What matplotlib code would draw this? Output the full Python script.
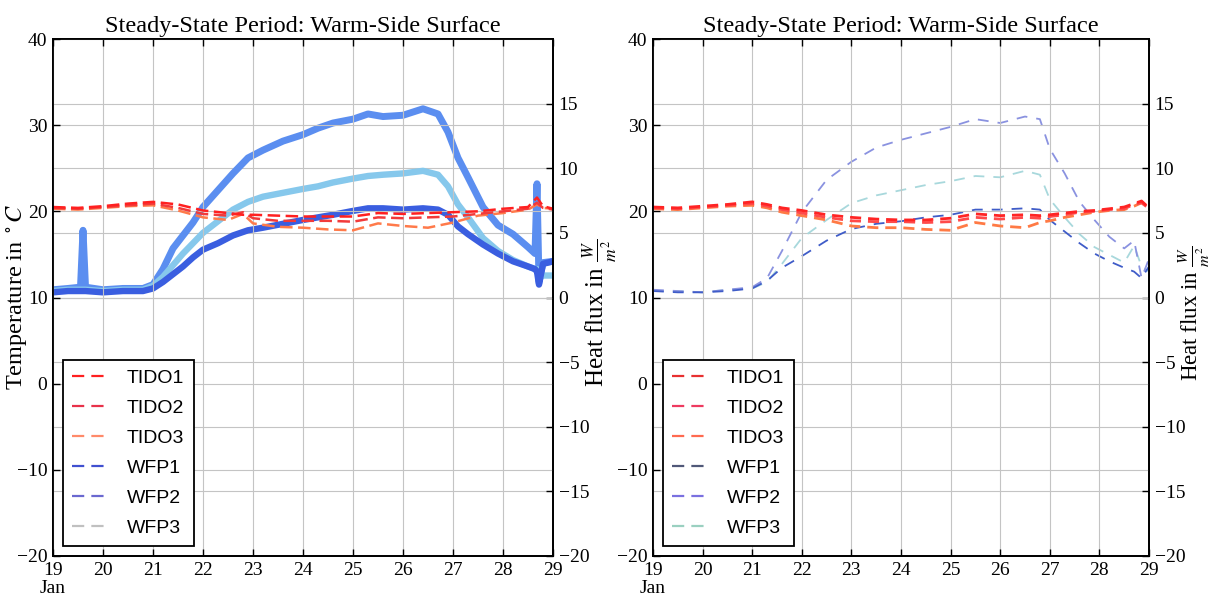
import numpy as np
import pandas as pd
import matplotlib
matplotlib.use('Agg')
import matplotlib.pyplot as plt
import matplotlib.dates as mdates
from matplotlib.lines import Line2D
from matplotlib.ticker import FuncFormatter

plt.rcParams['font.family'] = ['Liberation Serif', 'DejaVu Serif']
plt.rcParams['mathtext.fontset'] = 'stix'

# ---------------- data (days of January) ----------------
# Left panel: high-resolution measurements
wfp_days_L = [19.0, 19.3, 19.55, 19.6, 19.65, 20.0, 20.4, 20.8, 21.0, 21.2, 21.4, 21.6, 21.8,
              22.0, 22.3, 22.6, 22.9, 23.2, 23.6, 24.0, 24.3, 24.6, 25.0, 25.3, 25.6, 26.0,
              26.4, 26.7, 26.9, 27.1, 27.3, 27.6, 27.9, 28.2, 28.5, 28.64, 28.68, 28.72, 28.8, 29.0]
wfp1_L = [0.4, 0.5, 0.5, 0.5, 0.5, 0.4, 0.5, 0.5, 0.7, 1.2, 1.8, 2.4, 3.1,
          3.7, 4.2, 4.8, 5.2, 5.4, 5.7, 6.0, 6.2, 6.4, 6.7, 6.9, 6.9, 6.8,
          6.9, 6.8, 6.4, 5.5, 4.9, 4.1, 3.4, 2.8, 2.4, 2.2, 2.0, 1.0, 2.6, 2.8]
wfp2_L = [0.6, 0.7, 0.8, 5.2, 0.8, 0.6, 0.7, 0.7, 1.0, 2.2, 3.8, 4.8, 5.8,
          7.0, 8.3, 9.6, 10.8, 11.4, 12.1, 12.6, 13.1, 13.5, 13.8, 14.2, 14.0, 14.1,
          14.6, 14.2, 12.8, 10.8, 9.3, 7.0, 5.6, 4.9, 3.9, 3.4, 8.8, 1.2, 2.7, 2.8]
wfp3_L = [0.5, 0.6, 0.6, 0.6, 0.6, 0.5, 0.6, 0.6, 0.9, 1.6, 2.5, 3.4, 4.2,
          5.0, 5.9, 6.8, 7.4, 7.8, 8.1, 8.4, 8.6, 8.9, 9.2, 9.4, 9.5, 9.6,
          9.8, 9.5, 8.6, 7.2, 6.2, 4.6, 3.6, 2.9, 2.4, 2.2, 2.2, 1.5, 1.7, 1.7]

tido_days_L = [19.0, 19.5, 20.0, 20.5, 21.0, 21.5, 22.0, 22.5, 22.8, 23.0, 23.5, 24.0,
               24.5, 25.0, 25.5, 26.0, 26.5, 27.0, 27.5, 28.0, 28.5, 28.68, 28.8, 29.0]
tido1_L = [20.5, 20.4, 20.6, 20.9, 21.1, 20.8, 20.1, 19.8, 19.6, 19.6, 19.5, 19.4,
           19.4, 19.4, 19.8, 19.7, 19.8, 19.9, 20.0, 20.3, 20.5, 21.6, 20.6, 20.3]
tido2_L = [20.4, 20.3, 20.5, 20.7, 20.9, 20.4, 19.7, 19.5, 19.9, 19.2, 18.9, 18.9,
           18.9, 18.8, 19.3, 19.2, 19.3, 19.4, 19.7, 20.0, 20.3, 21.0, 20.4, 20.2]
tido3_L = [20.3, 20.2, 20.4, 20.6, 20.7, 20.1, 19.3, 19.0, 19.7, 18.6, 18.2, 18.1,
           17.9, 17.8, 18.6, 18.3, 18.1, 18.7, 19.5, 19.8, 20.2, 20.8, 20.4, 20.3]

# Right panel: resampled measurements
days_R = [19.0, 19.5, 20.0, 20.5, 21.0, 21.3, 21.6, 22.0, 22.5, 23.0, 23.5, 24.0, 24.5,
          25.0, 25.5, 26.0, 26.5, 26.8, 27.0, 27.3, 27.6, 27.9, 28.2, 28.5, 28.7, 28.85, 29.0]
wfp1_R = [0.5, 0.4, 0.4, 0.5, 0.7, 1.3, 2.3, 3.2, 4.4, 5.3, 5.7, 5.9, 6.2,
          6.4, 6.8, 6.8, 6.9, 6.8, 6.0, 5.1, 4.2, 3.4, 2.8, 2.3, 2.0, 1.5, 2.4]
wfp2_R = [0.6, 0.5, 0.4, 0.6, 0.8, 1.5, 3.6, 6.6, 9.1, 10.5, 11.6, 12.2, 12.7,
          13.2, 13.8, 13.5, 14.0, 13.8, 11.5, 9.6, 7.4, 6.0, 4.7, 3.8, 4.4, 1.5, 3.0]
wfp3_R = [0.5, 0.5, 0.4, 0.6, 0.7, 1.2, 2.6, 4.6, 6.0, 7.3, 7.9, 8.3, 8.7,
          9.0, 9.4, 9.3, 9.8, 9.5, 7.6, 6.2, 4.9, 3.9, 3.3, 2.7, 4.0, 2.4, 2.0]
tido1_R = [20.5, 20.4, 20.6, 20.8, 21.1, 20.8, 20.4, 20.1, 19.6, 19.3, 19.1, 19.0, 19.0,
           19.2, 19.7, 19.5, 19.6, 19.5, 19.6, 19.8, 20.0, 20.1, 20.3, 20.5, 20.9, 21.2, 20.4]
tido2_R = [20.4, 20.3, 20.5, 20.7, 20.9, 20.6, 20.2, 19.8, 19.3, 18.9, 18.8, 18.8, 18.7,
           18.8, 19.3, 19.1, 19.3, 19.2, 19.4, 19.6, 19.9, 20.0, 20.2, 20.3, 20.8, 21.0, 20.3]
tido3_R = [20.3, 20.2, 20.4, 20.6, 20.7, 20.4, 19.9, 19.5, 19.0, 18.3, 18.1, 18.1, 17.9,
           17.8, 18.7, 18.3, 18.1, 18.7, 18.9, 19.3, 19.6, 19.9, 20.1, 20.2, 20.6, 21.0, 20.4]

labels = ['TIDO1', 'TIDO2', 'TIDO3', 'WFP1', 'WFP2', 'WFP3']
title = 'Steady-State Period: Warm-Side Surface'

col_L = {'TIDO1': '#ff2020', 'TIDO2': '#f23a3a', 'TIDO3': '#ff7a4a',
         'WFP1': '#3a5ee0', 'WFP2': '#5b8ef0', 'WFP3': '#86c8ec'}
col_R = {'TIDO1': '#ff2424', 'TIDO2': '#ff4a4a', 'TIDO3': '#ff7a45',
         'WFP1': '#3f5cc8', 'WFP2': '#8a92e0', 'WFP3': '#a8d8dc'}
leg_L = {'TIDO1': '#ff2020', 'TIDO2': '#e8324a', 'TIDO3': '#ff8a6a',
         'WFP1': '#4050d0', 'WFP2': '#6a68d0', 'WFP3': '#c0c0c0'}
leg_R = {'TIDO1': '#e83030', 'TIDO2': '#ee3a60', 'TIDO3': '#ff6a50',
         'WFP1': '#505878', 'WFP2': '#7a70e0', 'WFP3': '#9ad0c0'}


def to_dt(days):
    return pd.Timestamp('2016-01-01') + pd.to_timedelta(np.asarray(days, float) - 1.0, unit='D')


def fmt_day(x, pos):
    d = mdates.num2date(x)
    s = d.strftime('%d').lstrip('0')
    if pos == 0:
        s += '\nJan'
    return s


fig = plt.figure(figsize=(12.1, 6.06), dpi=100)
W, H = 1210, 606
grid_kw = dict(color='#c4c4c4', linewidth=0.8, linestyle='-')


def setup(ax, left_label, ax_left_px, ax_w_px, right_label_px, right_label_size):
    ax2 = ax.twinx()
    ax.set_zorder(ax2.get_zorder() + 1)
    ax.patch.set_visible(False)
    ax.set_xlim(to_dt([19])[0], to_dt([29])[0])
    ax.set_ylim(-20, 40)
    ax.set_yticks(range(-20, 41, 10))
    ax2.set_ylim(-20, 20)
    ax2.set_yticks(range(-20, 16, 5))
    ax.xaxis.set_major_locator(mdates.DayLocator())
    ax.xaxis.set_major_formatter(FuncFormatter(fmt_day))
    for a in (ax, ax2):
        a.tick_params(direction='in', length=5, width=1, labelsize=14, pad=4)
        for s in a.spines.values():
            s.set_linewidth(1.3)
    ax.tick_params(top=True)
    ax2.grid(True, axis='y', **grid_kw)
    ax.grid(True, **grid_kw)
    ax.set_axisbelow(True)
    ax2.set_axisbelow(True)
    for lab in ax.get_xticklabels():
        lab.set_linespacing(1.1)
    ax.set_title(title, fontsize=17.5, pad=5)
    if left_label:
        ax.set_ylabel(r'Temperature in $^\circ C$', fontsize=17.5)
        ax.yaxis.set_label_coords((29 - ax_left_px) / ax_w_px, 0.5)
    ax2.set_ylabel(r'Heat flux in $\frac{W}{m^2}$', fontsize=right_label_size)
    ax2.yaxis.set_label_coords((right_label_px - ax_left_px) / ax_w_px, 0.47)
    return ax2


def legend(ax, cols):
    handles = [Line2D([], [], color=cols[l], lw=1.6, linestyle=(0, (5.5, 3.2))) for l in labels]
    lg = ax.legend(handles, labels, loc='lower left', fancybox=False, framealpha=1,
                   edgecolor='black', prop={'family': ['Liberation Sans', 'DejaVu Sans'], 'size': 14},
                   handlelength=1.7, handletextpad=1.1, labelspacing=0.63, borderpad=0.5,
                   borderaxespad=0.5)
    lg.get_frame().set_linewidth(1.3)
    lg.set_zorder(20)


# ---------------- left panel ----------------
axL = fig.add_axes([53 / W, 1 - 556 / H, 500 / W, 517 / H])
axL2 = setup(axL, True, 53, 500, 581, 18)
tdL = to_dt(tido_days_L)
wdL = to_dt(wfp_days_L)
axL2.plot(wdL, wfp2_L, color=col_L['WFP2'], lw=5.0, solid_joinstyle='round')
axL2.plot(wdL, wfp3_L, color=col_L['WFP3'], lw=4.6, solid_joinstyle='round')
axL2.plot(wdL, wfp1_L, color=col_L['WFP1'], lw=4.6, solid_joinstyle='round')
for name, vals in (('TIDO3', tido3_L), ('TIDO2', tido2_L), ('TIDO1', tido1_L)):
    axL.plot(tdL, vals, color=col_L[name], lw=1.8, linestyle=(0, (5, 2.2)))
legend(axL, leg_L)

# ---------------- right panel ----------------
axR = fig.add_axes([653 / W, 1 - 556 / H, 496 / W, 517 / H])
axR2 = setup(axR, False, 653, 496, 1177, 16.5)
dR = to_dt(days_R)
axR2.plot(dR, wfp3_R, color=col_R['WFP3'], lw=1.3, linestyle=(0, (6, 5)))
axR2.plot(dR, wfp2_R, color=col_R['WFP2'], lw=1.3, linestyle=(0, (6, 5)))
axR2.plot(dR, wfp1_R, color=col_R['WFP1'], lw=1.3, linestyle=(0, (6, 5)))
for name, vals in (('TIDO3', tido3_R), ('TIDO2', tido2_R), ('TIDO1', tido1_R)):
    axR.plot(dR, vals, color=col_R[name], lw=2.0, linestyle=(0, (4, 2.5)))
legend(axR, leg_R)

fig.savefig('out.png', dpi=100)
